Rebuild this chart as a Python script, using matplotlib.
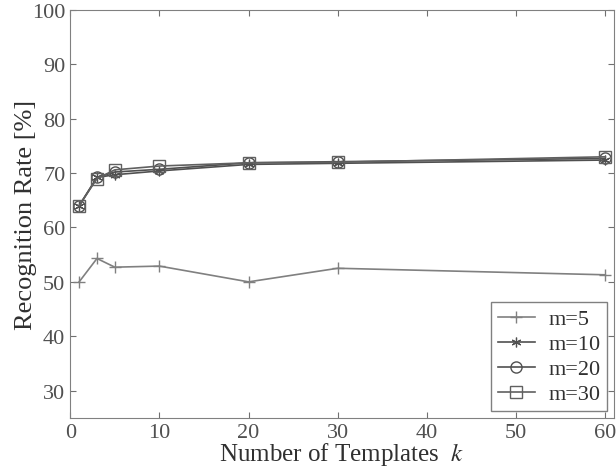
import matplotlib
matplotlib.use("Agg")
import matplotlib.pyplot as plt

# Number of templates k
k_values = [1, 3, 5, 10, 20, 30, 60]

# Recognition rate [%] for each m
rate_m5 = [50.0, 54.3, 52.7, 52.9, 50.0, 52.5, 51.3]
rate_m10 = [64.0, 69.2, 69.7, 70.4, 71.6, 71.8, 72.4]
rate_m20 = [64.0, 69.2, 70.2, 70.7, 71.9, 72.1, 72.7]
rate_m30 = [64.0, 69.0, 70.6, 71.3, 71.9, 72.0, 73.0]

x_ticks = [0, 10, 20, 30, 40, 50, 60]
y_ticks = [30, 40, 50, 60, 70, 80, 90, 100]

plt.rcParams['font.family'] = ['Liberation Serif', 'DejaVu Serif']
plt.rcParams['mathtext.fontset'] = 'stix'

fig = plt.figure(figsize=(6.16, 4.77), dpi=100)
ax = fig.add_axes([0.114, 0.122, 0.883, 0.855])

ax.plot(k_values, rate_m5, color='#808080', marker='+', markersize=9,
        markeredgewidth=1.0, linewidth=1.2, label='m=5')
ax.plot(k_values, rate_m10, color='#505050', marker=(6, 2, 0), markersize=7,
        markeredgewidth=0.9, linewidth=1.2, label='m=10')
ax.plot(k_values, rate_m20, color='#505050', marker='o', markersize=8,
        markerfacecolor='none', markeredgewidth=1.0, linewidth=1.2, label='m=20')
ax.plot(k_values, rate_m30, color='#606060', marker='s', markersize=8,
        markerfacecolor='none', markeredgewidth=1.0, linewidth=1.2, label='m=30')

ax.set_xlim(0, 61)
ax.set_ylim(25, 100)
ax.set_xticks(x_ticks)
ax.set_yticks(y_ticks)
ax.tick_params(direction='in', top=True, right=True, length=4,
               color='#707070', labelcolor='#505050', labelsize=16)
for spine in ax.spines.values():
    spine.set_color('#808080')

ax.set_xlabel('Number of Templates  $\\mathit{k}$', fontsize=18, color='#303030', labelpad=-1)
ax.set_ylabel('Recognition Rate [%]', fontsize=19, color='#303030')
ax.yaxis.set_label_coords(-0.062, 0.5)

leg = ax.legend(loc='lower right', fontsize=16, fancybox=False, framealpha=1,
                edgecolor='#808080', borderaxespad=0.3, handlelength=1.7,
                labelspacing=0.2, borderpad=0.3, handletextpad=0.6)
for text in leg.get_texts():
    text.set_color('#303030')

fig.savefig('out.png', dpi=100)
